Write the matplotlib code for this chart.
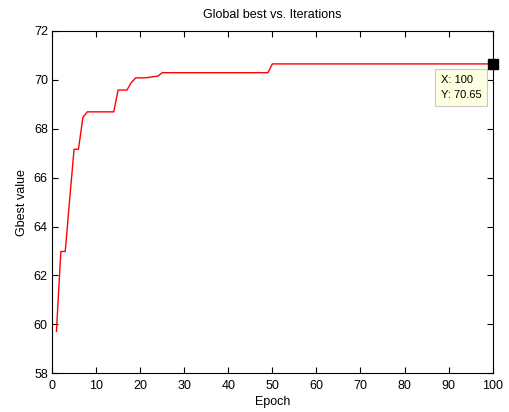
import numpy as np
import matplotlib
matplotlib.use('Agg')
import matplotlib.pyplot as plt

plt.rcParams['font.family'] = ['Liberation Sans', 'DejaVu Sans']

# gbest per epoch
epochs = list(range(1, 101))
gbest = ([59.71, 62.98, 62.98, 65.1, 67.16, 67.16, 68.46]
         + [68.69] * 7
         + [69.58] * 3
         + [69.89]
         + [70.08] * 3
         + [70.10, 70.13, 70.15]
         + [70.29] * 25
         + [70.65] * 51)

tip_x = 100
tip_y = 70.65

fig = plt.figure(figsize=(5.1, 4.12), dpi=100)
ax = fig.add_axes([0.102, 0.094, 0.864, 0.831])

ax.plot(epochs, gbest, color='red', linewidth=1.0)
ax.plot([tip_x], [tip_y], 's', color='black', markersize=6.5, clip_on=False, zorder=5)
ax.annotate('X: %d\nY: %.2f' % (tip_x, tip_y), xy=(tip_x, tip_y),
            xytext=(-52, -11), textcoords='offset pixels', ha='left', va='top',
            fontsize=8, linespacing=1.65,
            bbox=dict(boxstyle='square,pad=0.5', facecolor='#ffffe1', edgecolor='#c8c8c8', linewidth=0.8))

ax.set_xlim(0, 100)
ax.set_ylim(58, 72)
ax.set_xticks(np.arange(0, 101, 10))
ax.set_yticks(np.arange(58, 73, 2))
ax.tick_params(direction='in', top=True, right=True, length=4, width=0.8, labelsize=9)
ax.tick_params(axis='x', pad=5)
ax.tick_params(axis='y', pad=3)
for s in ax.spines.values():
    s.set_linewidth(0.8)

ax.set_title('Global best vs. Iterations', fontsize=9, pad=9)
ax.set_xlabel('Epoch', fontsize=9, labelpad=3)
ax.set_ylabel('Gbest value', fontsize=9, labelpad=4)

fig.savefig('out.png', dpi=100)
